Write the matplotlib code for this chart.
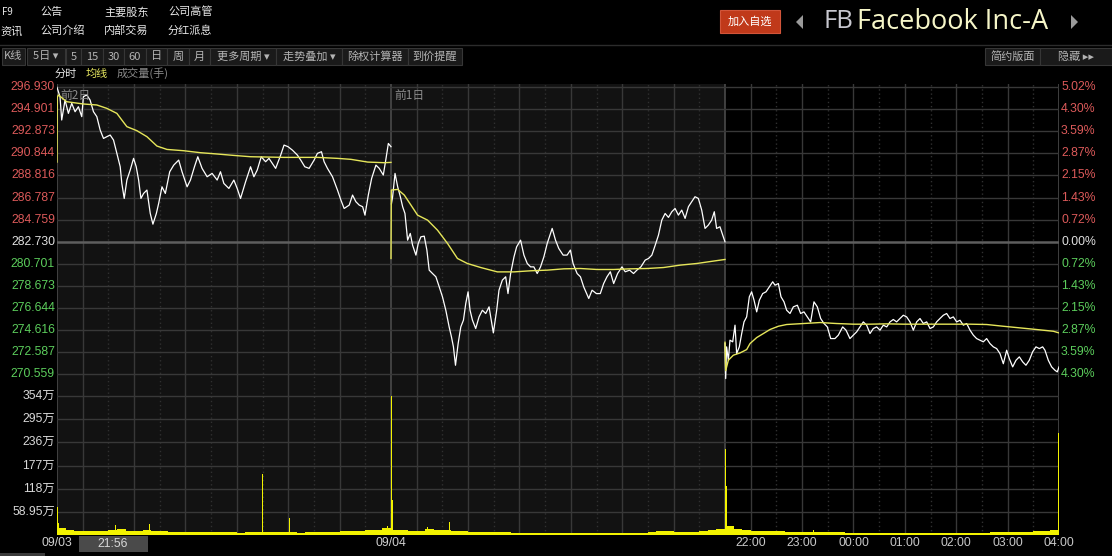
import matplotlib
matplotlib.use('Agg')
import matplotlib.pyplot as plt
from matplotlib.patches import Rectangle, Polygon
from matplotlib.transforms import blended_transform_factory

plt.rcParams['font.family'] = ['Noto Sans CJK SC', 'DejaVu Sans']
NUM_FONT = ['Liberation Sans', 'Noto Sans CJK SC', 'DejaVu Sans']

# ---- data (minutes from 21:30 open, price in USD) ----
day1_t = [0, 3.5, 5.5, 9.4, 13.3, 17.2, 21.1, 25.0, 28.9, 30.8, 34.7, 38.6, 42.6, 46.5, 50.4, 54.3, 58.2, 62.1, 66.0, 69.9,
          73.8, 75.7, 78.5, 81.6, 85.5, 89.4, 92.5, 95.3, 98.0, 101.1, 105.0, 108.9, 112.0, 116.0, 118.7, 122.6, 126.5, 131.6, 136.3, 142.1,
          146.0, 151.9, 155.8, 160.5, 164.4, 169.4, 175.3, 181.1, 187.0, 190.9, 194.8, 200.7, 206.5, 210.4, 214.3, 220.2, 226.0, 229.9, 233.8, 238.5,
          243.6, 247.5, 251.4, 255.3, 261.2, 265.1, 269.8, 274.8, 280.7, 284.6, 289.3, 294.4, 300.2, 304.1, 308.8, 311.9, 315.8, 321.7, 327.5, 331.5,
          335.3, 341.2, 345.1, 349.0, 352.9, 356.9, 359.6, 363.5, 367.4, 372.4, 376.3, 381.0, 384.2, 386.9, 390]
day1_px = [296.90, 296.04, 293.90, 295.74, 294.51, 295.43, 294.66, 295.12, 294.21, 296.04, 296.20, 295.74, 294.66, 294.21, 292.98, 292.21, 292.37, 292.52, 292.06, 290.84,
           289.61, 288.08, 286.70, 288.39, 289.31, 290.38, 289.61, 288.39, 286.70, 287.16, 287.47, 285.32, 284.34, 285.32, 286.24, 287.77, 287.16, 289.15, 289.76, 290.22,
           289.15, 287.77, 288.39, 289.61, 290.53, 289.46, 288.69, 289.00, 288.39, 289.15, 288.08, 287.62, 288.39, 287.62, 286.70, 288.23, 289.61, 288.69, 289.31, 290.53,
           290.07, 290.38, 289.92, 289.46, 290.68, 291.60, 291.45, 291.14, 290.68, 290.22, 289.61, 289.46, 290.22, 290.84, 290.99, 290.07, 289.46, 288.69, 287.47, 286.55,
           285.78, 286.09, 287.01, 286.40, 286.09, 285.94, 285.17, 287.01, 288.54, 289.76, 289.46, 288.85, 290.38, 291.75, 291.45]
day1_avg_t = [0, 0.4, 1.6, 11.3, 30.8, 46.5, 58.2, 69.9, 75.7, 81.6, 93.3, 105.0, 116.7, 128.4, 148.0, 167.5, 187.0, 206.5, 226.0,
              265.1, 304.1, 327.5, 343.2, 362.7, 382.2, 390]
day1_avg = [290.04, 296.0, 296.20, 295.58, 295.37, 295.28, 294.97, 294.51, 293.90, 293.29, 292.92, 292.37, 291.51, 291.20, 291.08,
            290.90, 290.78, 290.65, 290.53, 290.47, 290.47, 290.38, 290.29, 290.04, 289.98, 290.01]

day2_t = [0.5, 1.9, 4.7, 7.8, 10.9, 13.6, 16.3, 19.4, 22.5, 25.2, 29.1, 31.8, 34.9, 38.8, 41.9, 44.6, 48.5, 52.4, 56.3, 60.1,
          64.0, 67.9, 70.6, 72.9, 75.3, 78.4, 81.5, 84.6, 87.3, 90.0, 92.3, 95.1, 98.9, 102.8, 106.7, 110.6, 114.5, 119.5, 123.4, 126.1,
          130.0, 133.9, 136.6, 139.7, 143.6, 146.7, 151.3, 155.2, 159.1, 163.0, 166.8, 170.7, 174.6, 178.5, 182.4, 188.2, 192.1, 195.9, 201.0, 205.6,
          209.5, 212.6, 217.3, 221.2, 225.0, 230.9, 234.8, 239.8, 244.4, 248.3, 252.2, 256.1, 260.0, 264.6, 269.7, 273.5, 278.6, 283.2, 287.1, 291.8,
          296.8, 300.7, 304.6, 308.5, 312.3, 316.2, 320.1, 324.0, 327.9, 331.7, 335.6, 339.5, 343.4, 347.3, 351.1, 355.0, 358.9, 362.8, 366.7, 370.5,
          374.4, 377.5, 380.2, 384.1, 388.0, 390]
day2_px = [286.2, 286.86, 289.00, 287.77, 286.86, 285.94, 285.32, 282.87, 283.49, 282.41, 281.50, 282.57, 283.18, 283.24, 281.96, 280.12, 279.81, 279.51, 278.59, 277.67,
           276.44, 274.91, 273.99, 273.08, 271.39, 273.38, 274.91, 275.53, 277.06, 278.13, 276.44, 275.53, 274.76, 275.83, 276.44, 276.14, 276.75, 274.36, 276.44, 278.28,
           279.20, 279.51, 277.97, 279.81, 281.34, 282.26, 282.87, 281.50, 280.73, 280.42, 280.42, 279.81, 280.42, 281.34, 282.57, 283.95, 282.87, 282.11, 281.50, 281.50,
           281.96, 280.73, 279.81, 279.51, 278.59, 277.52, 278.28, 277.97, 277.97, 278.89, 279.51, 279.97, 278.89, 279.81, 280.42, 279.97, 280.12, 279.81, 280.12, 280.42,
           281.04, 281.19, 281.50, 282.41, 283.33, 284.71, 285.32, 284.96, 285.48, 285.78, 285.17, 285.63, 284.87, 285.94, 286.40, 286.86, 286.70, 285.63, 283.95, 284.25,
           284.71, 285.48, 283.95, 284.10, 283.18, 282.72]
day2_avg_t = [0, 0.4, 7.8, 15.5, 23.3, 31.0, 42.7, 54.3, 66.0, 77.6, 89.2, 104.8, 124.2, 143.6, 163.0, 182.4, 201.8, 221.2,
              240.6, 260.0, 279.4, 298.8, 318.2, 337.6, 357.0, 376.4, 390]
day2_avg = [281.19, 287.47, 287.53, 287.01, 286.09, 285.17, 284.71, 283.79, 282.57, 281.19, 280.73, 280.36, 279.96, 279.96, 280.06,
            280.12, 280.24, 280.27, 280.18, 280.18, 280.24, 280.27, 280.36, 280.58, 280.73, 280.95, 281.10]

day3_t = [0, 0.8, 1.9, 3.9, 5.8, 9.0, 11.7, 13.6, 16.7, 19.5, 22.2, 25.3, 28.4, 31.1, 33.9, 37.0, 40.1, 44.0, 47.9, 51.8,
          55.7, 58.4, 62.3, 65.4, 68.9, 72.0, 75.9, 79.8, 84.5, 88.3, 92.2, 96.1, 100.0, 103.9, 107.8, 111.7, 115.6, 119.5, 123.4, 128.4,
          132.3, 137.4, 141.3, 145.9, 149.8, 153.7, 157.6, 161.5, 165.4, 169.3, 173.2, 177.1, 181.0, 184.9, 188.8, 192.7, 196.5, 200.4, 204.3, 208.2,
          212.1, 216.0, 219.9, 223.8, 227.7, 231.6, 235.5, 239.4, 243.3, 247.1, 251.0, 254.9, 258.8, 262.7, 266.6, 270.5, 274.4, 278.3, 282.2, 286.1,
          290.0, 293.8, 297.7, 301.6, 305.5, 309.4, 313.3, 317.2, 321.1, 325.0, 328.9, 332.0, 335.9, 339.8, 343.7, 347.6, 351.4, 355.3, 359.2, 363.1,
          367.0, 370.9, 373.6, 377.5, 381.4, 385.3, 388.0, 390]
day3_px = [273.4, 270.17, 273.08, 271.85, 273.69, 273.54, 275.07, 272.46, 273.08, 274.30, 275.37, 275.83, 277.67, 278.13, 277.36, 276.29, 277.36, 277.97, 278.13, 278.59,
           279.05, 278.74, 278.89, 277.67, 277.21, 276.44, 276.14, 276.75, 276.90, 276.14, 276.29, 275.83, 275.37, 277.21, 276.75, 275.68, 275.22, 274.91, 273.84, 273.84,
           274.15, 274.91, 274.61, 273.84, 274.15, 274.45, 274.91, 275.37, 275.07, 274.30, 274.76, 274.91, 274.61, 275.07, 274.91, 275.37, 275.59, 275.37, 275.68, 275.98,
           275.83, 275.37, 274.61, 275.37, 275.68, 275.22, 275.37, 274.76, 274.91, 275.37, 275.68, 275.98, 276.14, 275.68, 275.83, 275.37, 275.52, 275.07, 275.22, 274.61,
           274.15, 273.84, 273.69, 273.54, 273.84, 273.38, 273.08, 272.92, 272.46, 271.53, 272.77, 272.00, 271.24, 271.85, 272.16, 271.70, 271.39, 271.85, 272.62, 273.08,
           272.92, 273.08, 272.77, 271.85, 271.24, 270.93, 270.78, 271.24]
day3_avg_t = [0, 0.8, 3.9, 9.7, 17.5, 25.3, 29.2, 37.0, 44.8, 52.5, 62.3, 72.0, 91.5, 110.9, 130.4, 149.8, 169.3, 188.8, 208.2,
              227.7, 247.1, 266.6, 286.1, 305.5, 325.0, 344.4, 363.9, 383.4, 390]
day3_avg = [273.5, 270.9, 271.85, 272.31, 272.52, 272.83, 273.38, 273.93, 274.30, 274.67, 274.97, 275.13, 275.22, 275.31, 275.22,
            275.16, 275.16, 275.19, 275.16, 275.16, 275.16, 275.16, 275.16, 275.13, 274.97, 274.82, 274.67, 274.51, 274.36]

# volume (万), average level per 10-minute block, plus individual spikes
vol1 = [17, 12, 10, 10, 9, 10, 14, 15, 11, 10, 13, 11, 9, 8, 8, 7, 8, 7, 7, 7,
        7, 6, 7, 7, 7, 7, 7, 7, 6, 7, 7, 8, 8, 9, 9, 11, 12, 13, 17]
vol2 = [14, 12, 11, 11, 16, 13, 13, 11, 10, 8, 8, 7, 7, 7, 6, 6, 6, 6, 6, 6,
        5, 5, 5, 6, 5, 5, 6, 5, 5, 6, 7, 9, 9, 8, 8, 8, 9, 12, 16]
vol3 = [24, 16, 14, 11, 10, 9, 9, 8, 8, 8, 8, 7, 7, 7, 6, 6, 6, 6, 6, 6,
        6, 6, 6, 6, 6, 6, 6, 6, 6, 6, 6, 7, 8, 8, 8, 8, 9, 9, 13]
spike_t = [0.5, 1.5, 68, 108, 239.5, 271, 386, 390.5, 391.5, 433, 458.7, 780.3, 781.5, 883, 1169.3]
spike_v = [72, 30, 26, 28, 156, 43, 22, 354, 90, 21, 34, 220, 126, 14, 261]

prev_close = 282.730
price_levels = [296.930, 294.901, 292.873, 290.844, 288.816, 286.787, 284.759, 282.730,
                280.701, 278.673, 276.644, 274.616, 272.587, 270.559]
pct_labels = ['5.02%', '4.30%', '3.59%', '2.87%', '2.15%', '1.43%', '0.72%', '0.00%',
              '0.72%', '1.43%', '2.15%', '2.87%', '3.59%', '4.30%']
vol_levels = [354, 295, 236, 177, 118, 58.95]
vol_labels = ['354万', '295万', '236万', '177万', '118万', '58.95万']
hour_ticks = [810, 870, 930, 990, 1050, 1110, 1170]
hour_labels = ['22:00', '23:00', '00:00', '01:00', '02:00', '03:00', '04:00']

# ---- figure ----
W, H = 1112, 556
fig = plt.figure(figsize=(W / 100, H / 100), dpi=100, facecolor='black')


def fx(x):
    return x / W


def fy(y):
    return 1 - y / H


L, R, TOP, MID, BOT = 57, 1059, 84, 386, 535
ax = fig.add_axes([fx(L), fy(MID), (R - L) / W, (MID - TOP) / H])
axv = fig.add_axes([fx(L), fy(BOT), (R - L) / W, (BOT - MID) / H], sharex=ax)

px_per_usd = 22.1 / 2.0285
ax.set_ylim(296.93 - (MID - 87) / px_per_usd, 296.93 + 3 / px_per_usd)
axv.set_ylim(0, (BOT - MID) / (139 / 354))
ax.set_xlim(0, 1170)

GRID = '#383838'
for a in (ax, axv):
    a.set_facecolor('black')
    a.axvspan(0, 780, color='#121212', lw=0, zorder=0)
    for s in a.spines.values():
        s.set_visible(False)
    a.set_xticks([])
    a.set_yticks([])
    for d in range(3):
        for k in range(6):
            a.axvline(390 * d + 30 + 60 * k, color=GRID, lw=1, zorder=1)
            a.axvline(390 * d + 60 + 60 * k, color='#303030', lw=1, ls=(0, (1, 2)), zorder=1)
    for b in (0, 390, 780, 1170):
        a.axvline(b, color='#4a4a4a', lw=1.2, zorder=1)

for lv in price_levels:
    if lv == prev_close:
        ax.axhline(lv, color='#5e5e5e', lw=1.8, zorder=1)
    else:
        ax.axhline(lv, color=GRID, lw=1, zorder=1)
for lv in vol_levels:
    axv.axhline(lv, color=GRID, lw=1, zorder=1)

days = [(day1_t, day1_px, day1_avg_t, day1_avg),
        (day2_t, day2_px, day2_avg_t, day2_avg),
        (day3_t, day3_px, day3_avg_t, day3_avg)]
for d, (t, p, at, av) in enumerate(days):
    off = 390 * d
    ax.plot([v + off for v in t], p, color='white', lw=0.9, zorder=3)
    ax.plot([v + off for v in at], av, color='#e6e65a', lw=1.0, zorder=4)

for d, vols in enumerate([vol1, vol2, vol3]):
    lefts = [390 * d + 10 * i for i in range(len(vols))]
    axv.bar(lefts, vols, width=10, align='edge', color='#f2f200', lw=0, zorder=3)
axv.bar(spike_t, spike_v, width=1.3, color='#f2f200', lw=0, zorder=3)

# axis labels
tl = blended_transform_factory(fig.transFigure, ax.transData)
tv = blended_transform_factory(fig.transFigure, axv.transData)
for lv, pl in zip(price_levels, pct_labels):
    col = '#e0e0e0' if lv == prev_close else ('#dc5a5a' if lv > prev_close else '#5ccd5c')
    ax.text(fx(55), lv, f'{lv:.3f}', transform=tl, ha='right', va='center',
            color=col, fontsize=8.8, family=NUM_FONT)
    ax.text(fx(1061), lv, pl, transform=tl, ha='left', va='center',
            color=col, fontsize=8.8, family=NUM_FONT)
for lv, lab in zip(vol_levels, vol_labels):
    axv.text(fx(55), lv, lab, transform=tv, ha='right', va='center',
             color='#d8d8d8', fontsize=8.8, family=NUM_FONT)

tb = blended_transform_factory(axv.transData, fig.transFigure)
axv.text(0, fy(543), '09/03', transform=tb, ha='center', va='center', color='#d0d0d0', fontsize=8.8, family=NUM_FONT)
axv.text(390, fy(543), '09/04', transform=tb, ha='center', va='center', color='#d0d0d0', fontsize=8.8, family=NUM_FONT)
for x, lab in zip(hour_ticks, hour_labels):
    axv.text(x, fy(543), lab, transform=tb, ha='center', va='center', color='#c8c8c8', fontsize=8.8, family=NUM_FONT)

fig.patches.append(Rectangle((fx(79), fy(552)), 69 / W, 16 / H, transform=fig.transFigure,
                             facecolor='#4a4a4a', edgecolor='none'))
fig.text(fx(113), fy(544), '21:56', ha='center', va='center', color='#d8d8d8', fontsize=8.8, family=NUM_FONT)
fig.patches.append(Rectangle((0, 0), 45 / W, 3 / H, transform=fig.transFigure,
                             facecolor='#3a3a3a', edgecolor='none'))

ax.text(fx(60), fy(95), '前2日', transform=fig.transFigure, ha='left', va='center', color='#8c8c8c', fontsize=8.5)
ax.text(fx(394), fy(95), '前1日', transform=fig.transFigure, ha='left', va='center', color='#8c8c8c', fontsize=8.5)

# ---- header ----
hdr = [(2, 12, 'F9'), (0, 31, '资讯'), (40, 12, '公告'), (40, 31, '公司介绍'),
       (104, 12, '主要股东'), (104, 31, '内部交易'), (168, 12, '公司高管'), (168, 31, '分红派息')]
for x, y, s in hdr:
    fig.text(fx(x), fy(y), s, ha='left', va='center', color='#e8e8e8', fontsize=8 if s != 'F9' else 7)

fig.add_artist(plt.Line2D([0, 1], [fy(45), fy(45)], transform=fig.transFigure, color='#2c2c2c', lw=1))

buttons = [(2, 25, 'K线'), (27, 65, '5日 ▾'), (66, 81, '5'), (81, 103, '15'), (103, 124, '30'),
           (124, 146, '60'), (146, 167, '日'), (167, 189, '周'), (189, 210, '月'),
           (210, 276, '更多周期 ▾'), (276, 342, '走势叠加 ▾'), (342, 408, '除权计算器'),
           (408, 462, '到价提醒'), (985, 1040, '简约版面'), (1040, 1112, '隐藏 ▸▸')]
for x0, x1, s in buttons:
    fig.patches.append(Rectangle((fx(x0), fy(65)), (x1 - x0) / W, 17 / H, transform=fig.transFigure,
                                 facecolor='#1a1a1a', edgecolor='#363636', lw=0.8))
    fig.text(fx((x0 + x1) / 2), fy(56.5), s, ha='center', va='center', color='#b4b4b4', fontsize=8)

fig.text(fx(55), fy(73.5), '分时', ha='left', va='center', color='#e6e6e6', fontsize=8)
fig.text(fx(86), fy(73.5), '均线', ha='left', va='center', color='#e8e860', fontsize=8)
fig.text(fx(117), fy(73.5), '成交量(手)', ha='left', va='center', color='#8a8a8a', fontsize=8)

fig.patches.append(Rectangle((fx(720), fy(33)), 60 / W, 23 / H, transform=fig.transFigure,
                             facecolor='#c0391a', edgecolor='#d2553a', lw=0.8))
fig.text(fx(750), fy(21.5), '加入自选', ha='center', va='center', color='white', fontsize=8)
fig.patches.append(Polygon([(fx(803), fy(15)), (fx(803), fy(29)), (fx(796), fy(22))], closed=True,
                           transform=fig.transFigure, facecolor='#9a9a9a', edgecolor='none'))
fig.patches.append(Polygon([(fx(1071), fy(15)), (fx(1071), fy(29)), (fx(1078), fy(22))], closed=True,
                           transform=fig.transFigure, facecolor='#9a9a9a', edgecolor='none'))
fig.text(fx(824), fy(22), 'FB', ha='left', va='center', color='#c8c8d0', fontsize=18.5, family='Open Sans')
fig.text(fx(857), fy(22), 'Facebook Inc-A', ha='left', va='center', color='#f6f6c8', fontsize=19.5, family='Open Sans')

fig.savefig('out.png', dpi=100, facecolor='black')
